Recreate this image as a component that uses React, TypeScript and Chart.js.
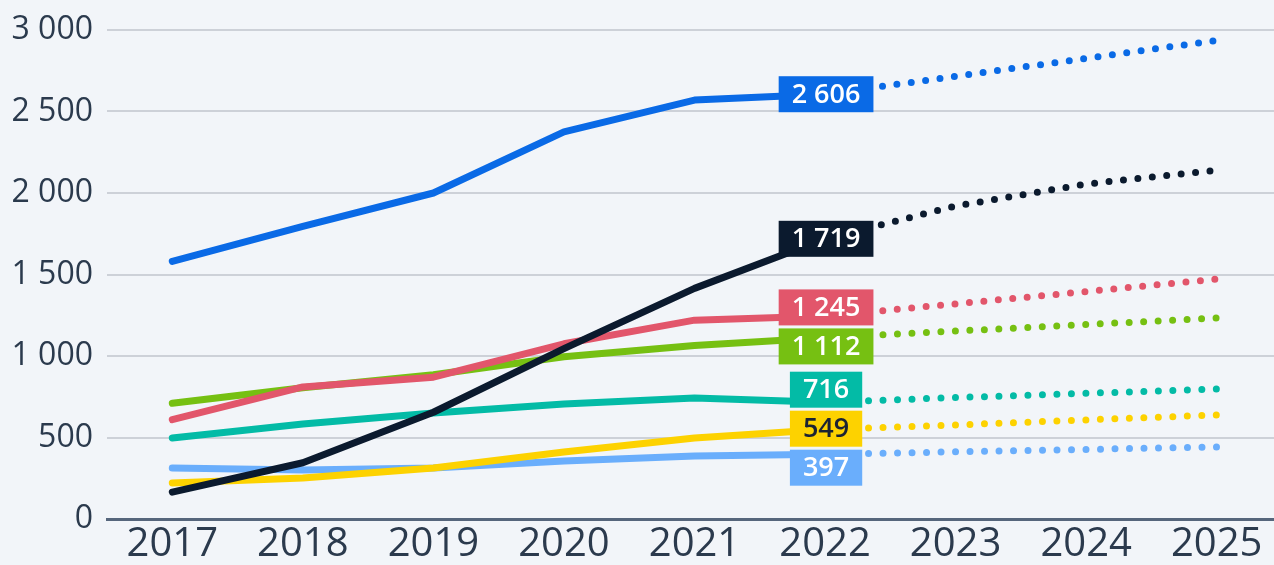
import React, { useEffect, useRef } from "react";
import { Chart, registerables } from "chart.js";

Chart.register(...registerables);

const years = ["2017", "2018", "2019", "2020", "2021", "2022", "2023", "2024", "2025"];
const blueValues = [1580, 1795, 2000, 2375, 2570, 2606, 2716, 2826, 2936];
const blackValues = [165, 345, 655, 1045, 1415, 1719, 1920, 2055, 2140];
const redValues = [610, 810, 870, 1075, 1220, 1245, 1320, 1395, 1472];
const greenValues = [710, 805, 885, 995, 1065, 1112, 1153, 1193, 1233];
const tealValues = [497, 583, 650, 706, 742, 716, 745, 771, 797];
const yellowValues = [221, 252, 313, 411, 497, 549, 577, 608, 638];
const lightBlueValues = [313, 301, 313, 356, 387, 397, 412, 427, 442];
const labelIndex = 5;

const fmt = (v: number) => String(Math.round(v)).replace(/\B(?=(\d{3})+(?!\d))/g, " ");

const series = [
  { data: blackValues, color: "#0b1a2e", text: "#ffffff" },
  { data: blueValues, color: "#0a6ae6", text: "#ffffff" },
  { data: redValues, color: "#e2566b", text: "#ffffff" },
  { data: greenValues, color: "#76c012", text: "#ffffff" },
  { data: tealValues, color: "#03bba6", text: "#ffffff" },
  { data: yellowValues, color: "#fdd200", text: "#1b2333" },
  { data: lightBlueValues, color: "#6aaefc", text: "#ffffff" },
];

const labelPlugin = {
  id: "endLabels",
  afterDatasetsDraw(chart: any) {
    const ctx = chart.ctx;
    const boxH = 36;
    const gap = 3;
    const items: any[] = [];
    chart.data.datasets.forEach((ds: any, i: number) => {
      const meta = chart.getDatasetMeta(i);
      const pt = meta.data[labelIndex];
      items.push({ x: pt.x, y0: pt.y, y: pt.y, text: fmt(ds.data[labelIndex]), color: ds.borderColor, tc: series[i].text });
    });
    items.sort((a, b) => a.y0 - b.y0);
    let clusters = items.map((it) => ({ items: [it], center: it.y0 }));
    const step = boxH + gap;
    let changed = true;
    while (changed) {
      changed = false;
      for (let i = 0; i < clusters.length - 1; i++) {
        const a = clusters[i];
        const b = clusters[i + 1];
        const aBottom = a.center + (a.items.length * step) / 2;
        const bTop = b.center - (b.items.length * step) / 2;
        if (aBottom > bTop) {
          const merged = a.items.concat(b.items);
          const c = merged.reduce((s: number, it: any) => s + it.y0, 0) / merged.length;
          clusters.splice(i, 2, { items: merged, center: c });
          changed = true;
          break;
        }
      }
    }
    clusters.forEach((cl) => {
      const n = cl.items.length;
      cl.items.forEach((it: any, k: number) => {
        it.y = cl.center + (k - (n - 1) / 2) * step;
      });
    });
    ctx.save();
    ctx.font = "600 27px 'Open Sans'";
    ctx.textAlign = "center";
    ctx.textBaseline = "middle";
    items.forEach((it) => {
      const w = ctx.measureText(it.text).width + 26;
      ctx.fillStyle = it.color;
      ctx.fillRect(it.x - w / 2 + 1, it.y - boxH / 2, w, boxH);
      ctx.fillStyle = it.tc;
      ctx.fillText(it.text, it.x + 1, it.y + 1);
    });
    ctx.restore();
  },
};

export default function App() {
  const ref = useRef<HTMLCanvasElement>(null);
  useEffect(() => {
    document.body.style.margin = "0";
    const canvas = ref.current!;
    const chart = new Chart(canvas, {
      type: "line",
      data: {
        labels: years,
        datasets: series.map((s) => ({
          data: s.data,
          borderColor: s.color,
          backgroundColor: s.color,
          borderWidth: 7,
          borderCapStyle: "round",
          borderJoinStyle: "round",
          pointRadius: 0,
          tension: 0,
          segment: {
            borderDash: (c: any) => (c.p0DataIndex >= labelIndex ? [0, 14.5] : undefined),
          },
        })),
      },
      options: {
        animation: false,
        responsive: false,
        devicePixelRatio: 1,
        layout: { padding: { top: 0, left: 0, right: 0, bottom: 0 } },
        plugins: { legend: { display: false }, tooltip: { enabled: false } },
        scales: {
          x: {
            offset: true,
            grid: { display: false, drawTicks: false },
            border: { display: true, color: "#56667c", width: 3 },
            ticks: {
              color: "#2b3a4d",
              font: { family: "'Open Sans'", size: 40 },
              padding: 2,
              maxRotation: 0,
              autoSkip: false,
            },
            afterFit: (s: any) => {
              s.height = 46;
            },
          },
          y: {
            min: 0,
            max: 3000,
            grid: {
              color: (c: any) => (c.tick && c.tick.value === 0 ? "rgba(0,0,0,0)" : "#cdd1d8"),
              lineWidth: 2,
              drawTicks: false,
            },
            border: { display: false },
            ticks: {
              stepSize: 500,
              color: "#2b3a4d",
              font: { family: "'Open Sans'", size: 32, lineHeight: 1.0 },
              padding: 14,
              callback: (v: any) => fmt(Number(v)),
            },
            afterFit: (s: any) => {
              s.width = 107;
            },
          },
        },
      },
      plugins: [labelPlugin],
    } as any);
    return () => chart.destroy();
  }, []);
  return (
    <div
      style={{
        position: "fixed",
        left: 0,
        top: 0,
        width: 1274,
        height: 565,
        overflow: "hidden",
        background: "#f2f5f9",
      }}
    >
      <canvas ref={ref} width={1282} height={565} style={{ width: 1282, height: 565, display: "block" }} />
    </div>
  );
}
